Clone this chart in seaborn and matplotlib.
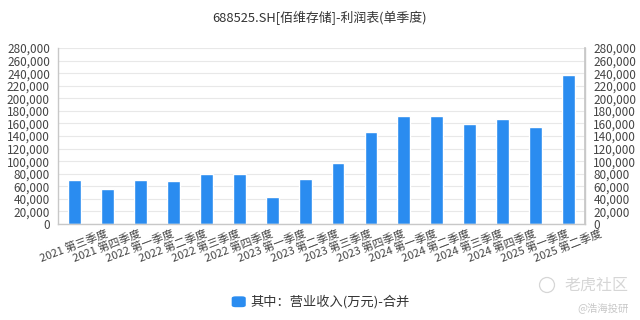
import matplotlib
matplotlib.use("Agg")
import matplotlib.pyplot as plt
import matplotlib.transforms as mtrans
import seaborn as sns
import pandas as pd
from matplotlib.ticker import FuncFormatter, MultipleLocator
from matplotlib.patches import FancyBboxPatch, Circle

sns.set_theme(style="white")
plt.rcParams['font.family'] = ['Noto Sans CJK SC', 'DejaVu Sans']

quarters = ["2021 第三季度", "2021 第四季度", "2022 第一季度", "2022 第二季度",
            "2022 第三季度", "2022 第四季度", "2023 第一季度", "2023 第二季度",
            "2023 第三季度", "2023 第四季度", "2024 第一季度", "2024 第二季度",
            "2024 第三季度", "2024 第四季度", "2025 第一季度", "2025 第二季度"]
revenue = [70600, 55700, 70000, 67900, 80100, 80100, 42400, 72100,
           97600, 147000, 172400, 171300, 158600, 167100, 154400, 237700]
series_name = "其中：营业收入(万元)-合并"
title = "688525.SH[佰维存储]-利润表(单季度)"

df = pd.DataFrame({"quarter": quarters, "value": revenue})

fig = plt.figure(figsize=(6.4, 3.2), dpi=100)
fig.patch.set_facecolor("white")
ax = fig.add_axes([0.091, 0.30, 0.823, 0.55])
bar_color = "#2a8cf0"
sns.barplot(data=df, x="quarter", y="value", color=bar_color, width=0.39,
            saturation=1, ax=ax)
ax.set_xlim(-0.5, len(quarters) - 0.5)
ax.set_ylim(0, 280000)
ax.yaxis.set_major_locator(MultipleLocator(20000))
fmt = FuncFormatter(lambda v, p: f"{int(v):,}")
ax.yaxis.set_major_formatter(fmt)
ax.set_xlabel("")
ax.set_ylabel("")
ax.grid(axis="y", color="#e8e8e8", linewidth=0.8)
ax.set_axisbelow(True)
ax.spines["top"].set_visible(False)
for s in ["left", "bottom", "right"]:
    ax.spines[s].set_color("#c8c8c8")
    ax.spines[s].set_linewidth(1.0)
ax.tick_params(axis="y", labelsize=8.5, colors="#444444", length=0, pad=6)
ax.tick_params(axis="x", labelsize=8, colors="#444444", length=0, pad=3)
shift = mtrans.ScaledTranslation(31 / 100, 0, fig.dpi_scale_trans)
for lab in ax.get_xticklabels():
    lab.set_rotation(21)
    lab.set_ha("right")
    lab.set_va("top")
    lab.set_rotation_mode("anchor")
    lab.set_transform(lab.get_transform() + shift)

ax2 = ax.twinx()
ax2.set_ylim(ax.get_ylim())
ax2.yaxis.set_major_locator(MultipleLocator(20000))
ax2.yaxis.set_major_formatter(fmt)
ax2.tick_params(axis="y", labelsize=8.5, colors="#444444", length=0, pad=6)
for s in ["top", "left", "bottom"]:
    ax2.spines[s].set_visible(False)
ax2.spines["right"].set_color("#c8c8c8")
ax2.grid(False)

fig.text(0.5, 0.945, title, ha="center", va="center", fontsize=9.3, color="#333333")

fig.patches.append(FancyBboxPatch((0.364, 0.042), 0.018, 0.03,
                                  boxstyle="round,pad=0.002,rounding_size=0.006",
                                  transform=fig.transFigure, facecolor=bar_color, edgecolor="none"))
fig.text(0.392, 0.056, series_name, ha="left", va="center", fontsize=9.5, color="#333333")

fig.text(0.982, 0.11, "老虎社区", ha="right", va="center", fontsize=11.5, color="#d6d6d6")
fig.patches.append(Circle((5.47, 0.35), 0.075, transform=fig.dpi_scale_trans,
                          facecolor="none", edgecolor="#d6d6d6", linewidth=0.9))
fig.text(0.982, 0.04, "@浩海投研", ha="right", va="center", fontsize=7.5, color="#c8c8c8")

fig.savefig("out.png", dpi=100, facecolor="white")
